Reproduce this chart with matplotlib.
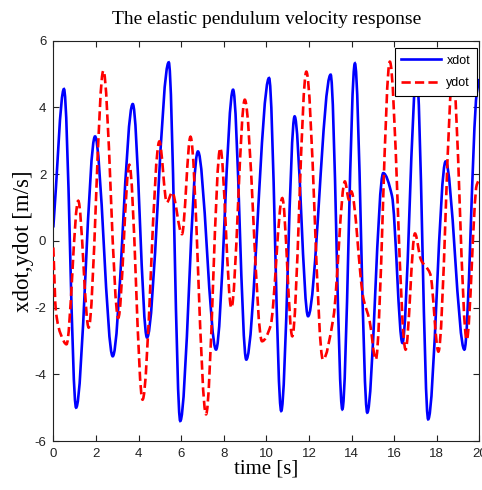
import numpy as np
import matplotlib
matplotlib.use('Agg')
import matplotlib.pyplot as plt
from matplotlib.path import Path
from matplotlib.patches import PathPatch
from matplotlib.lines import Line2D

plt.rcParams['axes.unicode_minus'] = False

# ---- data (time [s], velocity [m/s]) ----
t_xdot = [0.0, 0.50, 1.07, 1.96, 2.79, 3.73, 4.40, 5.42, 5.96, 6.79, 7.64,
          8.44, 9.06, 10.13, 10.70, 11.33, 11.96, 13.02, 13.57, 14.16, 14.74,
          15.49, 15.90, 16.39, 17.06, 17.60, 18.42, 19.30, 19.88, 20.0]
xdot = [0.4, 4.55, -5.00, 3.13, -3.46, 4.10, -2.90, 5.35, -5.40, 2.68, -3.26,
        4.53, -3.56, 4.88, -5.10, 3.73, -2.26, 4.98, -5.05, 5.32, -5.15,
        2.03, 1.35, -3.06, 5.00, -5.35, 2.38, -3.26, 4.43, 4.85]

t_ydot = [0.0, 0.12, 0.35, 0.62, 1.17, 1.66, 2.35, 3.05, 3.57, 4.19, 4.98,
          5.33, 5.58, 6.04, 6.44, 7.17, 7.84, 8.36, 8.99, 9.80, 10.20, 10.75,
          11.22, 11.88, 12.66, 13.15, 13.69, 13.88, 13.99, 14.55, 14.85, 15.14,
          15.80, 16.54, 16.98, 17.25, 17.70, 18.08, 18.76, 19.41, 19.88, 20.0]
ydot = [-0.2, -2.1, -2.8, -3.10, 1.20, -2.60, 5.10, -2.31, 2.28, -4.76, 2.98,
        1.15, 1.45, 0.20, 3.12, -5.20, 2.78, -2.01, 4.23, -3.01, -2.55, 1.28,
        -2.86, 5.07, -3.56, -2.30, 1.78, 1.23, 1.48, -1.70, -2.40, -3.56,
        5.37, -3.26, 0.22, -0.55, -1.00, -3.32, 5.00, -2.97, 1.68, 1.85]

x_ticks = [0, 2, 4, 6, 8, 10, 12, 14, 16, 18, 20]
y_ticks = [-6, -4, -2, 0, 2, 4, 6]
labels = ['xdot', 'ydot']


def smooth_path(t, v):
    """Smooth (monotone cubic Hermite) Bezier path through the read points."""
    t = np.asarray(t, float)
    v = np.asarray(v, float)
    h = np.diff(t)
    d = np.diff(v) / h
    m = np.zeros_like(v)
    for k in range(1, len(v) - 1):
        if d[k - 1] * d[k] > 0:
            w1 = 2 * h[k] + h[k - 1]
            w2 = h[k] + 2 * h[k - 1]
            m[k] = (w1 + w2) / (w1 / d[k - 1] + w2 / d[k])
    m[0] = d[0]
    m[-1] = d[-1]
    verts = [(t[0], v[0])]
    codes = [Path.MOVETO]
    for k in range(len(h)):
        verts += [(t[k] + h[k] / 3, v[k] + m[k] * h[k] / 3),
                  (t[k + 1] - h[k] / 3, v[k + 1] - m[k + 1] * h[k] / 3),
                  (t[k + 1], v[k + 1])]
        codes += [Path.CURVE4] * 3
    return Path(verts, codes)


serif = ['Liberation Serif', 'DejaVu Serif']
sans = ['Liberation Sans', 'DejaVu Sans']

fig = plt.figure(figsize=(4.82, 4.90), dpi=100)
ax = fig.add_axes([0.1106, 0.10, 0.8838, 0.817])

lw = 1.9
dash = (0, (3.5, 1.6))
blue = (0, 0, 1)
red = (1, 0, 0)

ax.add_patch(PathPatch(smooth_path(t_xdot, xdot), fill=False,
                       edgecolor=blue, lw=lw, zorder=2))
ax.add_patch(PathPatch(smooth_path(t_ydot, ydot), fill=False,
                       edgecolor=red, lw=lw, linestyle=dash, zorder=3))

ax.set_xlim(0, 20)
ax.set_ylim(-6, 6)
ax.set_xticks(x_ticks)
ax.set_yticks(y_ticks)
ax.tick_params(direction='in', top=True, right=True, length=4, width=0.8,
               labelsize=9.5, pad=5, colors='#222222')
for lab in ax.get_xticklabels() + ax.get_yticklabels():
    lab.set_family(sans)
for sp in ax.spines.values():
    sp.set_linewidth(0.8)
    sp.set_color('#222222')

ax.set_title('The elastic pendulum velocity response', family=serif,
             fontsize=14, pad=12)
ax.set_xlabel('time [s]', family=serif, fontsize=15, labelpad=0)
ax.set_ylabel('xdot,ydot [m/s]', family=serif, fontsize=16.5, labelpad=0)

handles = [Line2D([], [], color=blue, lw=lw),
           Line2D([], [], color=red, lw=lw, linestyle=dash)]
leg = ax.legend(handles, labels, loc='upper right',
                bbox_to_anchor=(0.9946, 0.9818), borderaxespad=0,
                fancybox=False, framealpha=1, edgecolor='black',
                prop={'family': sans, 'size': 9}, handlelength=3.2,
                handletextpad=0.4, borderpad=0.55, labelspacing=0.85)
leg.get_frame().set_linewidth(0.8)
leg.set_zorder(5)

fig.savefig('out.png', dpi=100)
